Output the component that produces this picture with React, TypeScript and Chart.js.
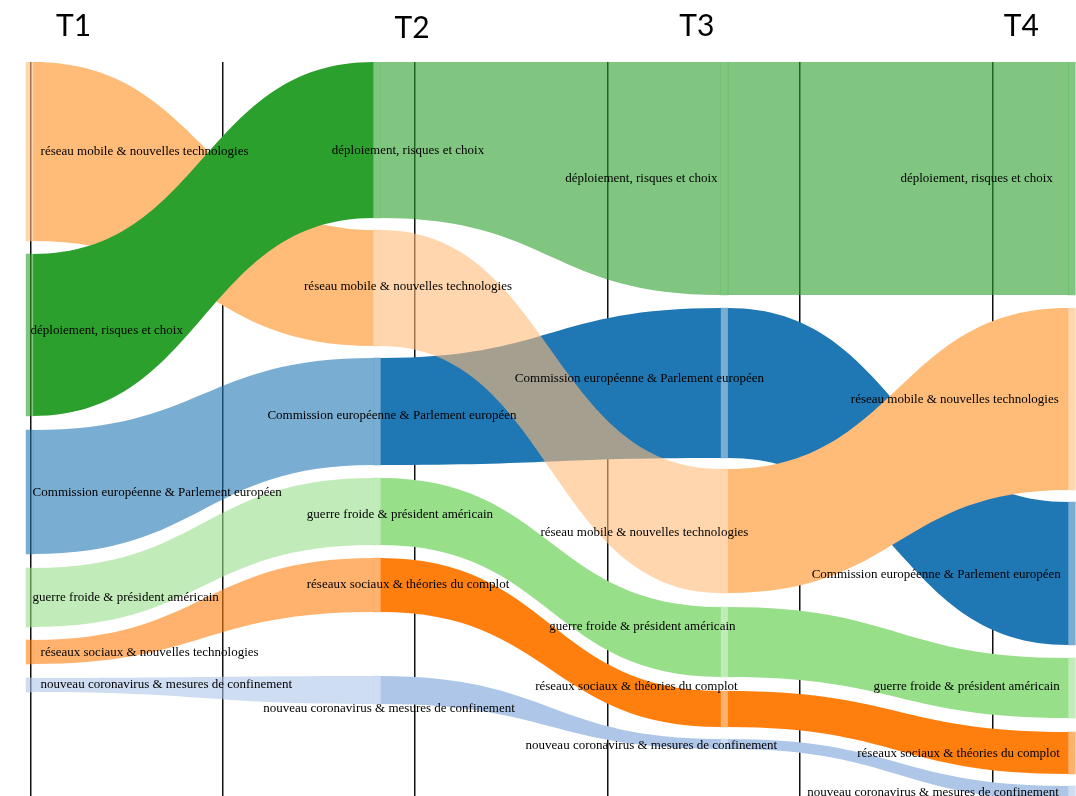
import React, { useEffect, useRef } from 'react';
import { Chart, registerables } from 'chart.js';

Chart.register(...registerables);

// ---------- data ----------
const PERIODS = ['T1', 'T2', 'T3', 'T4'];

// topics, in drawing order
const TOPICS = ['commission', 'reseauMobile', 'deploiement', 'guerreFroide', 'reseauxSociaux', 'coronavirus'];

// node bands per period: [top, bottom] in chart units (0 = top of the plot)
const COMMISSION = [[368, 492], [296, 403], [246, 396], [440, 583]];
const RESEAU_MOBILE = [[0, 179], [168, 284], [407, 531], [246, 428]];
const DEPLOIEMENT = [[192, 354], [0, 156], [0, 233], [0, 233]];
const GUERRE_FROIDE = [[506, 565], [416, 483], [545, 615], [596, 656]];
const RESEAUX_SOCIAUX = [[578, 602], [496, 550], [629, 665], [670, 712]];
const CORONAVIRUS = [[616, 630], [614, 642], [677, 687], [724, 738]];

const BANDS = [COMMISSION, RESEAU_MOBILE, DEPLOIEMENT, GUERRE_FROIDE, RESEAUX_SOCIAUX, CORONAVIRUS];

// node labels per period (topic order as above)
const LABELS_T1 = [
  'Commission européenne & Parlement européen',
  'réseau mobile & nouvelles technologies',
  'déploiement, risques et choix',
  'guerre froide & président américain',
  'réseaux sociaux & nouvelles technologies',
  'nouveau coronavirus & mesures de confinement',
];
const LABELS_T2 = [
  'Commission européenne & Parlement européen',
  'réseau mobile & nouvelles technologies',
  'déploiement, risques et choix',
  'guerre froide & président américain',
  'réseaux sociaux & théories du complot',
  'nouveau coronavirus & mesures de confinement',
];
const LABELS_T3 = LABELS_T2;
const LABELS_T4 = LABELS_T2;
const LABELS = [LABELS_T1, LABELS_T2, LABELS_T3, LABELS_T4];

// ---------- styles / layout ----------
const COLORS = ['#1f77b4', '#ffbb78', '#2ca02c', '#98df8a', '#ff7f0e', '#aec7e8'];
const NODE_ALPHA = 0.6;
// opacity of each topic's ribbon for segments T1→T2, T2→T3, T3→T4
const SEG_ALPHA = [
  [0.6, 1, 1, 0.6, 0.6, 0.6],
  [1, 0.6, 0.6, 1, 1, 1],
  [1, 1, 0.6, 1, 1, 1],
];
const NODE_W = 7;
const LABEL_ALIGN: CanvasTextAlign[] = ['left', 'center', 'center', 'right'];
const LABEL_DX = [
  [3, 11, 1, 3, 11, 11],
  [15, 31, 31, 23, 31, 12],
  [-85, -80, -83, -82, -88, -73],
  [-11, -13, -19, -12, -12, -13],
];
const LABEL_DY = [
  [1, 0, -4, 0, 1, 0],
  [4.5, -1, 11, 3.5, 0, 19],
  [-4, 2, 0, -15, -22, 2],
  [1.5, 1, 0, -1, 1, 0],
];
const TITLE_DX = [44, 35, -27.5, -50.5];
const TITLE_Y = [36, 38, 36, 36];

function rgba(hex: string, a: number) {
  const n = parseInt(hex.slice(1), 16);
  return `rgba(${(n >> 16) & 255},${(n >> 8) & 255},${n & 255},${a})`;
}

const flowPlugin = {
  id: 'flows',
  beforeDatasetsDraw(chart: any) {
    const { ctx, scales } = chart;
    const x = scales.x;
    const y = scales.y;
    ctx.save();
    for (let s = 0; s < PERIODS.length - 1; s++) {
      TOPICS.forEach((_t, i) => {
        const a = BANDS[i][s];
        const b = BANDS[i][s + 1];
        const x0 = x.getPixelForValue(s) + NODE_W / 2;
        const x1 = x.getPixelForValue(s + 1) - NODE_W / 2;
        const xm = (x0 + x1) / 2;
        const t0 = y.getPixelForValue(a[0]);
        const b0 = y.getPixelForValue(a[1]);
        const t1 = y.getPixelForValue(b[0]);
        const b1 = y.getPixelForValue(b[1]);
        ctx.beginPath();
        ctx.moveTo(x0, t0);
        ctx.bezierCurveTo(xm, t0, xm, t1, x1, t1);
        ctx.lineTo(x1, b1);
        ctx.bezierCurveTo(xm, b1, xm, b0, x0, b0);
        ctx.closePath();
        ctx.fillStyle = rgba(COLORS[i], SEG_ALPHA[s][i]);
        ctx.fill();
      });
    }
    ctx.restore();
  },
  afterDatasetsDraw(chart: any) {
    const { ctx, scales } = chart;
    const x = scales.x;
    const y = scales.y;
    ctx.save();
    ctx.font = '13px "Liberation Serif", "Times New Roman", serif';
    ctx.fillStyle = '#000';
    ctx.textBaseline = 'middle';
    PERIODS.forEach((_p, s) => {
      ctx.textAlign = LABEL_ALIGN[s];
      TOPICS.forEach((_t, i) => {
        const band = BANDS[i][s];
        const cx = x.getPixelForValue(s) + LABEL_DX[s][i];
        const cy = (y.getPixelForValue(band[0]) + y.getPixelForValue(band[1])) / 2 + LABEL_DY[s][i];
        ctx.fillText(LABELS[s][i], cx, cy);
      });
    });
    ctx.restore();
  },
  afterDraw(chart: any) {
    const { ctx, scales } = chart;
    const x = scales.x;
    ctx.save();
    ctx.font = '30px Lato, "Open Sans", sans-serif';
    ctx.fillStyle = '#000';
    ctx.textAlign = 'center';
    ctx.textBaseline = 'alphabetic';
    PERIODS.forEach((p, s) => {
      ctx.fillText(p, x.getPixelForValue(s) + TITLE_DX[s], TITLE_Y[s]);
    });
    ctx.restore();
  },
};

export default function App() {
  const ref = useRef<HTMLCanvasElement>(null);
  useEffect(() => {
    document.body.style.margin = '0';
    const canvas = ref.current;
    if (!canvas) return;
    const chart = new Chart(canvas, {
      type: 'bar',
      data: {
        datasets: TOPICS.map((t, i) => ({
          label: t,
          data: BANDS[i].map((band, s) => ({ x: s, y: [band[0], band[1]] })) as any,
          backgroundColor: rgba(COLORS[i], NODE_ALPHA),
          borderWidth: 0,
          barThickness: NODE_W,
          grouped: false,
        })),
      },
      options: {
        animation: false,
        responsive: false,
        events: [],
        layout: { padding: { top: 62, left: 0, right: 0, bottom: 0 } },
        plugins: { legend: { display: false }, tooltip: { enabled: false }, title: { display: false } },
        scales: {
          x: { type: 'linear', min: -0.0852, max: 3.0121, display: false, offset: false, grid: { offset: false } },
          y: { type: 'linear', min: 0, max: 734, reverse: true, display: false },
          guide: {
            type: 'linear',
            axis: 'x',
            position: 'bottom',
            min: -0.1574,
            max: 5.4334,
            offset: false,
            z: 1,
            ticks: { display: false, stepSize: 1, includeBounds: false },
            grid: { color: '#111', lineWidth: 1.5, drawTicks: false, offset: false },
            border: { display: false },
          },
        },
      } as any,
      plugins: [flowPlugin],
    });
    return () => chart.destroy();
  }, []);
  return <canvas ref={ref} width={1076} height={796} style={{ display: 'block' }} />;
}
